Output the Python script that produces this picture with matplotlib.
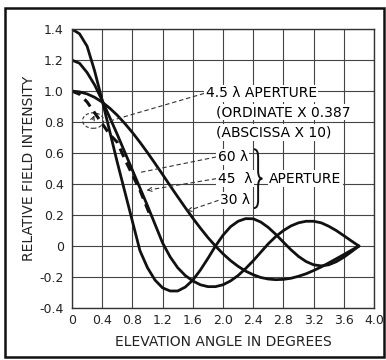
import numpy as np
import matplotlib
matplotlib.use("Agg")
import matplotlib.pyplot as plt
from matplotlib.patches import Ellipse, Rectangle, PathPatch
from matplotlib.path import Path

# elevation angle in degrees
angle = [0.0, 0.1, 0.2, 0.3, 0.4, 0.5, 0.6, 0.7, 0.8, 0.9,
         1.0, 1.1, 1.2, 1.3, 1.4, 1.5, 1.6, 1.7, 1.8, 1.9,
         2.0, 2.1, 2.2, 2.3, 2.4, 2.5, 2.6, 2.7, 2.8, 2.9,
         3.0, 3.1, 3.2, 3.3, 3.4, 3.5, 3.6, 3.7, 3.8]

# relative field intensity
ap_60 = [1.40, 1.37, 1.29, 1.13, 0.94, 0.74, 0.54, 0.35, 0.16, -0.03,
         -0.14, -0.22, -0.27, -0.29, -0.29, -0.265, -0.22, -0.155, -0.08, 0.0,
         0.07, 0.125, 0.16, 0.177, 0.176, 0.155, 0.12, 0.075, 0.025, -0.024,
         -0.067, -0.10, -0.121, -0.128, -0.121, -0.101, -0.072, -0.037, 0.0]

ap_45 = [1.20, 1.18, 1.12, 1.04, 0.94, 0.83, 0.72, 0.605, 0.49, 0.375,
         0.26, 0.14, 0.02, -0.07, -0.14, -0.19, -0.225, -0.25, -0.262, -0.262,
         -0.25, -0.225, -0.19, -0.145, -0.095, -0.04, 0.015, 0.062, 0.10, 0.13,
         0.15, 0.16, 0.16, 0.15, 0.128, 0.10, 0.067, 0.033, 0.0]

ap_30 = [1.00, 0.995, 0.982, 0.96, 0.929, 0.89, 0.844, 0.791, 0.733, 0.67,
         0.603, 0.533, 0.462, 0.389, 0.318, 0.248, 0.18, 0.116, 0.055, 0.0,
         -0.05, -0.094, -0.131, -0.162, -0.185, -0.203, -0.213, -0.217, -0.215, -0.208,
         -0.195, -0.179, -0.158, -0.135, -0.109, -0.082, -0.055, -0.027, 0.0]

# 4.5 lambda aperture (ordinate x 0.387, abscissa x 10), dashed
angle_45 = [0.0, 0.1, 0.2, 0.3, 0.4, 0.5, 0.6, 0.7, 0.8, 0.9, 1.0, 1.05]
ap_4_5 = [1.00, 0.98, 0.93, 0.86, 0.79, 0.72, 0.67, 0.56, 0.46, 0.36, 0.24, 0.18]

xticks = [0, 0.4, 0.8, 1.2, 1.6, 2.0, 2.4, 2.8, 3.2, 3.6, 4.0]
xticklabels = ["0", "0.4", "0.8", "1.2", "1.6", "2.0", "2.4", "2.8", "3.2", "3.6", "4.0"]
yticks = [-0.4, -0.2, 0, 0.2, 0.4, 0.6, 0.8, 1.0, 1.2, 1.4]
yticklabels = ["-0.4", "-0.2", "0", "0.2", "0.4", "0.6", "0.8", "1.0", "1.2", "1.4"]

fig = plt.figure(figsize=(3.86, 3.6), dpi=100)
fig.patch.set_facecolor("white")
ax = fig.add_axes([0.1865, 0.1444, 0.7825, 0.7746])

ax.set_xlim(0, 4.0)
ax.set_ylim(-0.4, 1.4)
ax.set_xticks(xticks)
ax.set_xticklabels(xticklabels)
ax.set_yticks(yticks)
ax.set_yticklabels(yticklabels)
ax.tick_params(length=0, labelsize=9, colors="#222222")
ax.tick_params(axis="x", pad=4)
ax.tick_params(axis="y", pad=6)
ax.grid(True, color="#444444", linewidth=0.8)
ax.set_axisbelow(True)
for s in ax.spines.values():
    s.set_color("#333333")
    s.set_linewidth(1.0)

ax.set_xlabel("ELEVATION ANGLE IN DEGREES", fontsize=10, color="#222222")
ax.set_ylabel("RELATIVE FIELD INTENSITY", fontsize=10, color="#222222")
ax.xaxis.set_label_coords(0.5, -0.095)
ax.yaxis.set_label_coords(-0.118, 0.5)

### Kurven:
ax.plot(angle, ap_60, color="#111111", linewidth=2.0, solid_capstyle="round")
ax.plot(angle, ap_45, color="#111111", linewidth=2.0, solid_capstyle="round")
ax.plot(angle, ap_30, color="#111111", linewidth=2.0, solid_capstyle="round")
ax.plot(angle_45, ap_4_5, color="#111111", linewidth=2.2, linestyle=(0, (3, 2)))

### Beschriftung:
box = dict(facecolor="white", edgecolor="none", pad=1)
ax.text(1.77, 0.985, "4.5 \u03bb APERTURE", fontsize=10, va="center", bbox=box)
ax.text(1.91, 0.865, "(ORDINATE X 0.387", fontsize=10, va="center", bbox=box)
ax.text(1.91, 0.735, "(ABSCISSA X 10)", fontsize=10, va="center", bbox=box)
ax.text(1.93, 0.575, "60 \u03bb", fontsize=10, va="center", bbox=box)
ax.text(1.93, 0.435, "45  \u03bb", fontsize=10, va="center", bbox=box)
ax.text(1.96, 0.295, "30 \u03bb", fontsize=10, va="center", bbox=box)
ax.text(2.61, 0.435, "APERTURE", fontsize=10, va="center", bbox=box)

# brace
brace = Path([(2.41, 0.625), (2.465, 0.625), (2.465, 0.575), (2.465, 0.485),
              (2.465, 0.435), (2.52, 0.435), (2.465, 0.435), (2.465, 0.385),
              (2.465, 0.295), (2.465, 0.245), (2.41, 0.245)],
             [Path.MOVETO, Path.CURVE3, Path.CURVE3, Path.LINETO,
              Path.CURVE3, Path.CURVE3, Path.CURVE3, Path.CURVE3,
              Path.LINETO, Path.CURVE3, Path.CURVE3])
ax.add_patch(PathPatch(brace, facecolor="none", edgecolor="#111111", linewidth=1.4))

# leader lines
lead = dict(color="#333333", linewidth=0.8, linestyle=(0, (4, 2.5)))
ax.plot([1.75, 0.45], [0.985, 0.80], **lead)
ax.plot([1.91, 0.90], [0.575, 0.475], **lead)
ax.plot([1.91, 1.05], [0.435, 0.365], **lead)
ax.plot([1.94, 1.58], [0.295, 0.235], **lead)
arr = dict(arrowstyle="->", color="#333333", linewidth=0.8, mutation_scale=7)
ax.annotate("", xy=(0.99, 0.36), xytext=(1.05, 0.365), arrowprops=arr)
ax.annotate("", xy=(1.52, 0.23), xytext=(1.58, 0.235), arrowprops=arr)
ax.annotate("", xy=(0.31, 0.86), xytext=(0.26, 0.80), arrowprops=arr)
ax.add_patch(Ellipse((0.28, 0.81), 0.28, 0.10, fill=False, edgecolor="#333333",
                     linewidth=0.8, linestyle=(0, (3, 2))))

# outer frame of the figure
fig.patches.append(Rectangle((0.013, 0.008), 0.981, 0.97, transform=fig.transFigure,
                             fill=False, edgecolor="#111111", linewidth=1.8))

plt.savefig("out.png", dpi=100)
